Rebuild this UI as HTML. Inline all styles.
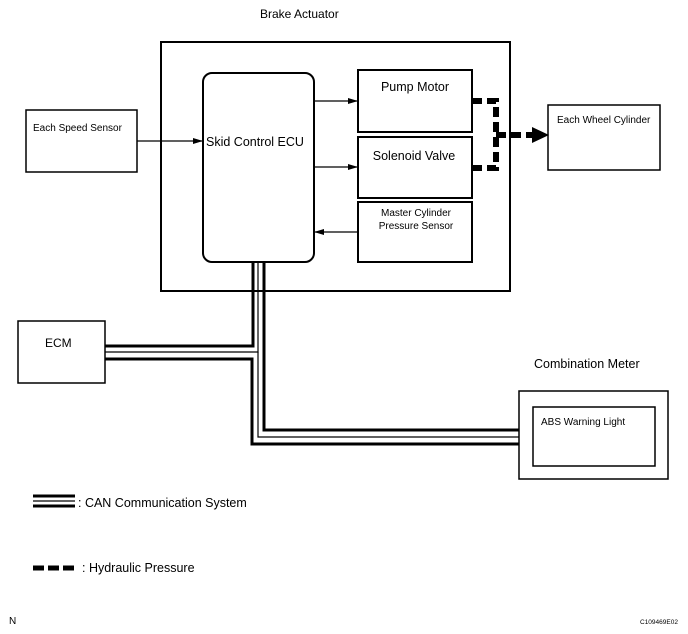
<!DOCTYPE html>
<html><head><meta charset="utf-8"><style>
html,body{margin:0;padding:0;background:#fff}
svg{display:block;font-family:"Liberation Sans",Arial,sans-serif}
</style></head><body>
<svg width="688" height="634" viewBox="0 0 688 634" xmlns="http://www.w3.org/2000/svg">
<defs>
<marker id="a" markerWidth="10" markerHeight="6" refX="10" refY="3" orient="auto" markerUnits="userSpaceOnUse"><path d="M0,0 L10,3 L0,6 Z" fill="#000"/></marker>
</defs>
<g fill="none" stroke="#000">
<rect x="161" y="42" width="349" height="249" stroke-width="2"/>
<rect x="203" y="73" width="111" height="189" rx="9" stroke-width="2"/>
<rect x="358" y="70" width="114" height="62" stroke-width="2"/>
<rect x="358" y="137" width="114" height="61" stroke-width="2"/>
<rect x="358" y="202" width="114" height="60" stroke-width="2"/>
<rect x="26" y="110" width="111" height="62" stroke-width="1.5"/>
<rect x="548" y="105" width="112" height="65" stroke-width="1.5"/>
<rect x="18" y="321" width="87" height="62" stroke-width="1.5"/>
<rect x="519" y="391" width="149" height="88" stroke-width="1.5"/>
<rect x="533" y="407" width="122" height="59" stroke-width="1.5"/>
<g stroke-width="1.3">
<line x1="137" y1="141" x2="203" y2="141" marker-end="url(#a)"/>
<line x1="314" y1="101" x2="358" y2="101" marker-end="url(#a)"/>
<line x1="314" y1="167" x2="358" y2="167" marker-end="url(#a)"/>
<line x1="358" y1="232" x2="314" y2="232" marker-end="url(#a)"/>
</g>
<polyline points="105,346 253,346 253,262" stroke-width="3"/>
<polyline points="105,352 258,352 258,262" stroke-width="1.2"/>
<polyline points="105,359 252,359 252,444 519,444" stroke-width="3"/>
<polyline points="264,262 264,430 519,430" stroke-width="3"/>
<polyline points="258,352 258,437 519,437" stroke-width="1.2"/>
<polyline points="472,101 496,101 496,168 472,168" stroke-width="6" stroke-dasharray="10,5"/>
<line x1="496" y1="135" x2="534" y2="135" stroke-width="6" stroke-dasharray="10,5"/>
<line x1="33" y1="496" x2="75" y2="496" stroke-width="3"/>
<line x1="33" y1="501" x2="75" y2="501" stroke-width="1.2"/>
<line x1="33" y1="506" x2="75" y2="506" stroke-width="3"/>
<line x1="33" y1="568" x2="77" y2="568" stroke-width="5" stroke-dasharray="11,4"/>
</g>
<path d="M532,127 L549,135 L532,143 Z" fill="#000"/>
<g fill="#000" font-size="12">
<text x="260" y="18">Brake Actuator</text>
<text x="415" y="91" text-anchor="middle" font-size="12.5">Pump Motor</text>
<text x="414" y="160" text-anchor="middle" font-size="12.5">Solenoid Valve</text>
<text x="416" y="216" text-anchor="middle" font-size="10">Master Cylinder</text>
<text x="416" y="229" text-anchor="middle" font-size="10">Pressure Sensor</text>
<text x="206" y="146" font-size="12.5">Skid Control ECU</text>
<text x="33" y="131" font-size="10">Each Speed Sensor</text>
<text x="557" y="123" font-size="10">Each Wheel Cylinder</text>
<text x="45" y="347" font-size="12">ECM</text>
<text x="534" y="368" font-size="12.5">Combination Meter</text>
<text x="541" y="425" font-size="10">ABS Warning Light</text>
<text x="78" y="507" font-size="12.5">: CAN Communication System</text>
<text x="82" y="572" font-size="12.5">: Hydraulic Pressure</text>
<text x="9" y="624" font-size="10">N</text>
<text x="640" y="624" font-size="6.5">C109469E02</text>
</g>
</svg>
</body></html>
